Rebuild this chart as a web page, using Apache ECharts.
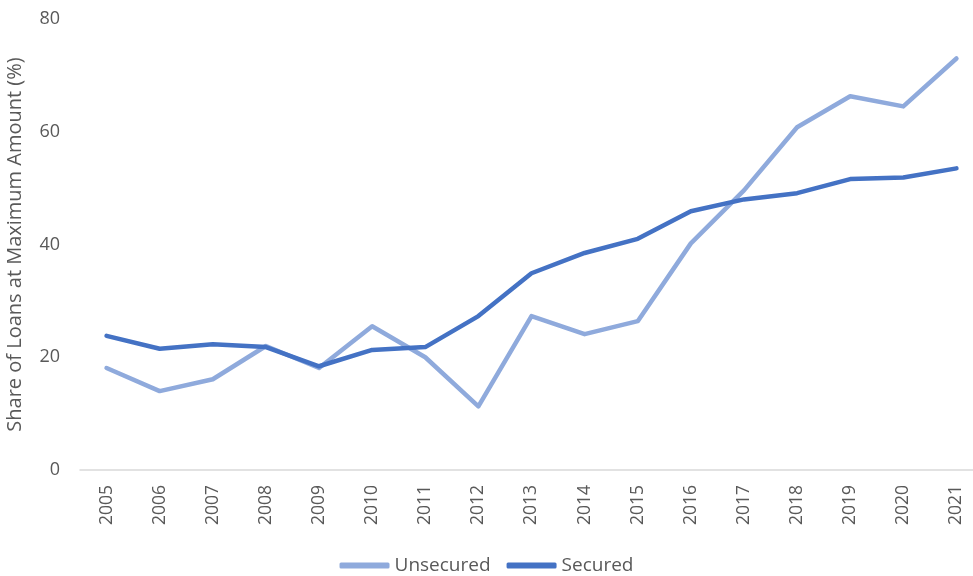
<!DOCTYPE html>
<html>
<head>
<meta charset="utf-8">
<script src="https://cdn.jsdelivr.net/npm/echarts@6/dist/echarts.min.js"></script>
<style>html,body{margin:0;padding:0;background:#fff;}#c{width:973px;height:576px;}</style>
</head>
<body>
<div id="c"></div>
<script>
const years = ['2005','2006','2007','2008','2009','2010','2011','2012','2013','2014','2015','2016','2017','2018','2019','2020','2021'];
const unsecured = [18.1, 14.0, 16.1, 22.0, 18.1, 25.5, 20.0, 11.3, 27.3, 24.1, 26.4, 40.2, 49.6, 60.8, 66.3, 64.5, 73.0];
const secured = [23.8, 21.5, 22.3, 21.8, 18.4, 21.3, 21.8, 27.3, 34.9, 38.5, 41.0, 45.9, 48.0, 49.1, 51.6, 51.9, 53.5];
const yTicks = [0, 20, 40, 60, 80];

const font = 'Open Sans';
const chart = echarts.init(document.getElementById('c'));
chart.setOption({
  animation: false,
  grid: { left: 80, width: 903, top: 19, height: 451, containLabel: false, outerBoundsMode: 'none' },
  legend: {
    top: 551,
    left: 'center',
    itemWidth: 50,
    itemHeight: 6,
    itemGap: 16,
    textStyle: { fontFamily: font, fontSize: 19, color: '#595959' },
    data: [
      { name: 'Unsecured', icon: 'roundRect' },
      { name: 'Secured', icon: 'roundRect' }
    ]
  },
  xAxis: {
    type: 'category',
    data: years,
    boundaryGap: true,
    axisLine: { lineStyle: { color: '#D9D9D9', width: 1.5 } },
    axisTick: { show: false },
    axisLabel: { rotate: 90, fontFamily: font, fontSize: 17.5, color: '#595959', margin: 15 }
  },
  yAxis: {
    type: 'value',
    min: yTicks[0],
    max: yTicks[yTicks.length - 1],
    interval: 20,
    name: 'Share of Loans at Maximum Amount (%)',
    nameLocation: 'middle',
    nameGap: 55,
    nameTextStyle: { fontFamily: font, fontSize: 20, color: '#595959' },
    axisLine: { show: false },
    axisTick: { show: false },
    splitLine: { show: false },
    axisLabel: { fontFamily: font, fontSize: 18, color: '#595959', margin: 20 }
  },
  series: [
    {
      name: 'Unsecured', type: 'line', data: unsecured,
      symbol: 'none',
      itemStyle: { color: '#8FAADC' },
      lineStyle: { color: '#8FAADC', width: 4.5, cap: 'round', join: 'round' }
    },
    {
      name: 'Secured', type: 'line', data: secured,
      symbol: 'none',
      itemStyle: { color: '#4472C4' },
      lineStyle: { color: '#4472C4', width: 4.5, cap: 'round', join: 'round' }
    }
  ]
});
</script>
</body>
</html>
